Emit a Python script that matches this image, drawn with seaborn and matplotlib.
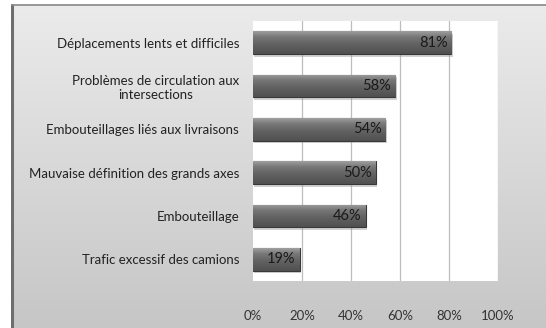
import numpy as np
import pandas as pd
import matplotlib
matplotlib.use("Agg")
import matplotlib.pyplot as plt
import seaborn as sns
from matplotlib.patches import Rectangle

categories = [
    "Déplacements lents et difficiles",
    "Problèmes de circulation aux\nintersections",
    "Embouteillages liés aux livraisons",
    "Mauvaise définition des grands axes",
    "Embouteillage",
    "Trafic excessif des camions",
]
values = [81, 58, 54, 50, 46, 19]
xticks = [0, 20, 40, 60, 80, 100]
xtick_labels = ["0%", "20%", "40%", "60%", "80%", "100%"]

sns.set_theme(style="white")
plt.rcParams["font.family"] = ["Lato", "DejaVu Sans"]

W, H = 546, 328
fig = plt.figure(figsize=(W / 100, H / 100), dpi=100)
fig.patch.set_facecolor("white")

# Chart-area backdrop: vertical light-to-mid grey gradient with a dark frame edge
bg = fig.add_axes([11 / W, 0, 1 - 11 / W, 1 - 4 / H], zorder=0)
grad = np.linspace(0, 1, 256).reshape(-1, 1)
bg.imshow(grad, aspect="auto", cmap=matplotlib.colors.LinearSegmentedColormap.from_list(
    "bgg", ["#ebebeb", "#c6c6c6"]), extent=[0, 1, 0, 1], origin="upper")
bg.set_xlim(0, 1)
bg.set_ylim(0, 1)
bg.set_axis_off()
bg.plot([0.002, 0.002], [0, 1], color="#6e6e6e", lw=2.2, solid_capstyle="butt")
bg.plot([0, 1], [0.998, 0.998], color="#8a8a8a", lw=1.2, solid_capstyle="butt")

ax = fig.add_axes([253 / W, 1 - 281 / H, 245 / W, 260 / H], zorder=1)
ax.set_facecolor("white")

df = pd.DataFrame({"cat": categories, "val": values})
sns.barplot(data=df, x="val", y="cat", orient="h", color="#666666",
            width=0.53, edgecolor="#383838", linewidth=0.8, ax=ax, zorder=3,
            saturation=1)

# shading on each bar: lighter top rim fading to a darker base, soft drop shadow
bar_cmap = matplotlib.colors.LinearSegmentedColormap.from_list(
    "barg", ["#a0a0a0", "#787878", "#666666", "#5a5a5a", "#505050"])
for p in ax.patches:
    x0, y0 = p.get_x(), p.get_y()
    w, h = p.get_width(), p.get_height()
    sh = Rectangle((x0 + 0.6, y0 + 0.06), w, h, facecolor="#9a9a9a", alpha=0.45,
                   edgecolor="none", zorder=2)
    ax.add_patch(sh)
    im = ax.imshow(grad, aspect="auto", cmap=bar_cmap,
                   extent=[x0, x0 + w, y0 + h, y0], origin="upper", zorder=3.5)
    im.set_clip_path(p)

for i, v in enumerate(values):
    ax.text(v - 1.6, i, f"{v}%", ha="right", va="center", fontsize=10.5,
            color="#1a1a1a", zorder=5)

ax.set_xlim(0, 100)
ax.set_ylim(5.5, -0.5)
ax.set_xticks(xticks)
ax.set_xticklabels(xtick_labels)
ax.tick_params(axis="x", length=0, pad=21, labelsize=9.5, colors="#333333")
ax.tick_params(axis="y", length=0, pad=10, labelsize=9.5, colors="#222222")
for lbl in ax.get_yticklabels():
    lbl.set_multialignment("center")
ax.set_xlabel("")
ax.set_ylabel("")
for x in xticks[1:]:
    ax.axvline(x, color="#bdbdbd", lw=0.9, zorder=1)
for s in ax.spines.values():
    s.set_visible(False)

fig.savefig("out.png", dpi=100)
